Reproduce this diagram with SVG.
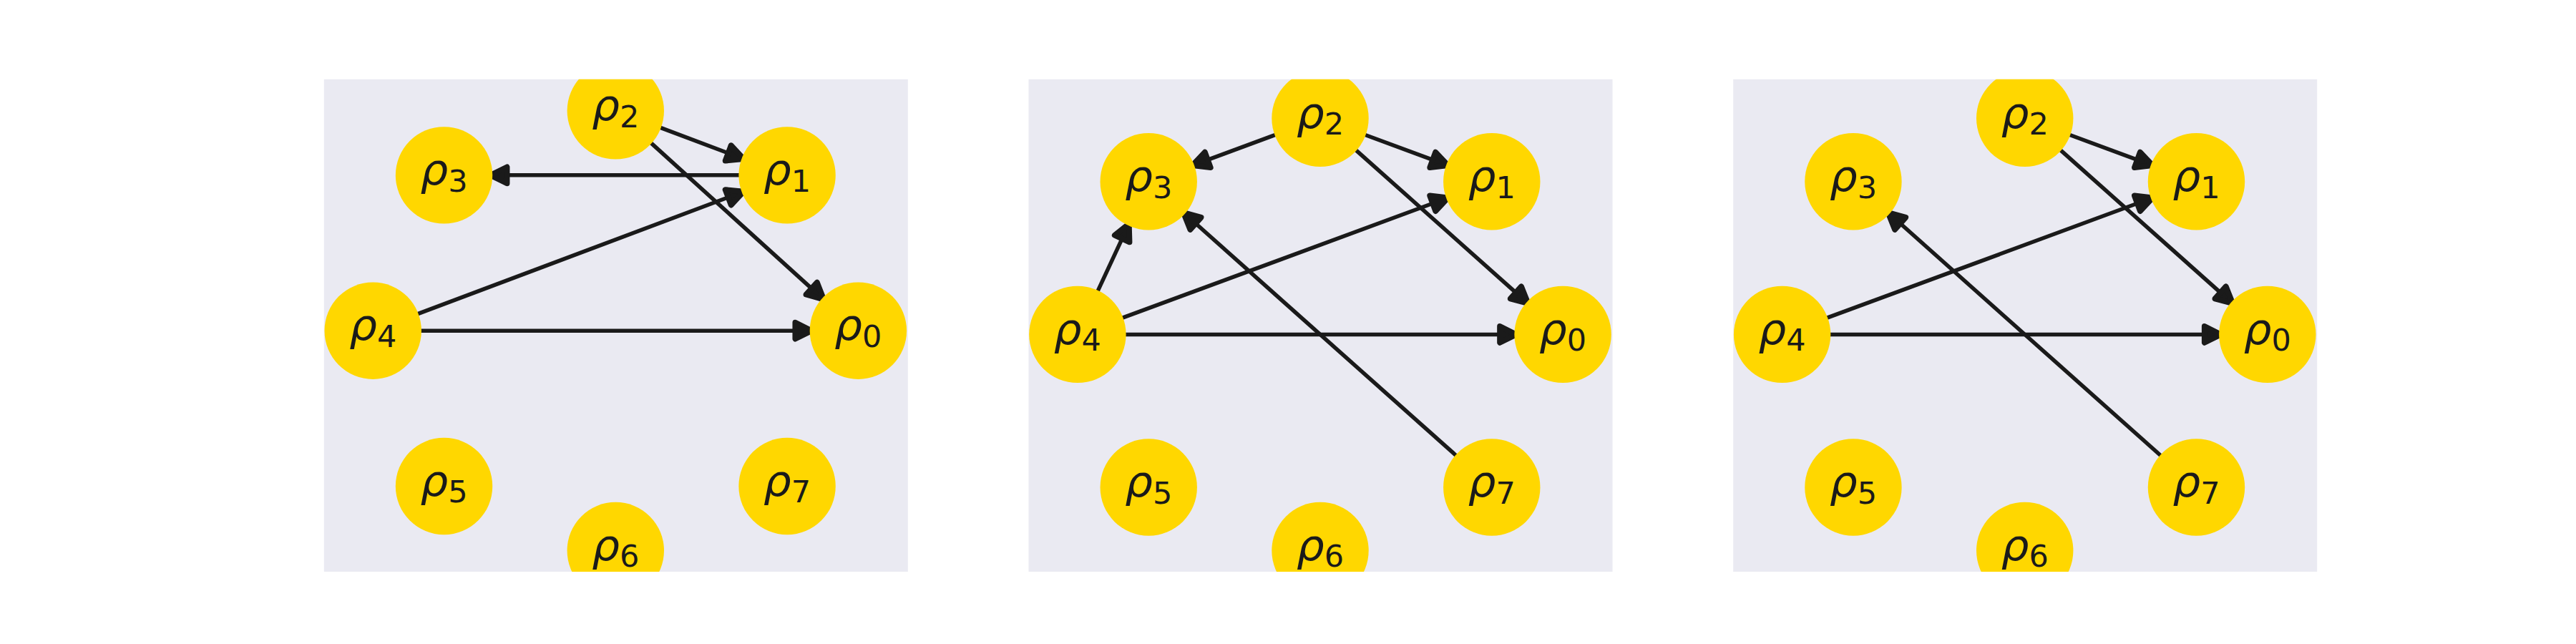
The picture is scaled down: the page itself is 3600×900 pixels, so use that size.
<svg xmlns="http://www.w3.org/2000/svg" width="3600" height="900" viewBox="0 0 3600 900">
<style>
.bg{fill:#EAEAF2}
.node{fill:#FFD700}
.edge{stroke:#1a1a1a;stroke-width:5.5;fill:none;marker-end:url(#ah)}
.lbl{font-family:"DejaVu Sans",sans-serif;font-size:61px;fill:#1a1a1a;text-anchor:middle}
.rho{font-style:italic}
.sub{font-size:43px;font-style:normal}
</style>
<defs>
<marker id="ah" markerUnits="userSpaceOnUse" markerWidth="40" markerHeight="40" viewBox="-5 -14 28 28" refX="0" refY="0" orient="auto" overflow="visible">
<path d="M0,-8 L16,0 L0,8 Z" fill="#1a1a1a" stroke="#1a1a1a" stroke-width="5.5" stroke-linejoin="round"/>
</marker>
<clipPath id="c1"><rect x="452.8" y="110.8" width="816" height="688.2"/></clipPath>
<clipPath id="c2"><rect x="1437.5" y="110.8" width="816" height="688.2"/></clipPath>
<clipPath id="c3"><rect x="2422.2" y="110.8" width="816" height="688.2"/></clipPath>
</defs>
<rect x="0" y="0" width="3600" height="900" fill="#ffffff"/>

<g id="panel1">
<rect class="bg" x="452.8" y="110.8" width="816" height="688.2"/>
<g id="p1-edges" clip-path="url(#c1)">
<line class="edge" x1="923.02" y1="178.41" x2="1017.67" y2="213.95"/>
<line class="edge" x1="1033.06" y1="244.87" x2="708.52" y2="244.87"/>
<line class="edge" x1="909.93" y1="199.85" x2="1134.17" y2="403.09"/>
<line class="edge" x1="583.93" y1="438.63" x2="1017.67" y2="275.79"/>
<line class="edge" x1="588.20" y1="462.18" x2="1111.38" y2="462.18"/>
</g>
<g clip-path="url(#c1)">
<g id="p1-n0"><circle class="node" cx="1199.38" cy="462.18" r="67.7"/><text class="lbl" x="1199.38" y="475.4"><tspan class="rho">ρ</tspan><tspan class="sub" dy="9.6">0</tspan></text></g>
<g id="p1-n1"><circle class="node" cx="1100.06" cy="244.87" r="67.7"/><text class="lbl" x="1100.06" y="258.1"><tspan class="rho">ρ</tspan><tspan class="sub" dy="9.6">1</tspan></text></g>
<g id="p1-n2"><circle class="node" cx="860.29" cy="154.86" r="67.7"/><text class="lbl" x="860.29" y="168.1"><tspan class="rho">ρ</tspan><tspan class="sub" dy="9.6">2</tspan></text></g>
<g id="p1-n3"><circle class="node" cx="620.52" cy="244.87" r="67.7"/><text class="lbl" x="620.52" y="258.1"><tspan class="rho">ρ</tspan><tspan class="sub" dy="9.6">3</tspan></text></g>
<g id="p1-n4"><circle class="node" cx="521.20" cy="462.18" r="67.7"/><text class="lbl" x="521.20" y="475.4"><tspan class="rho">ρ</tspan><tspan class="sub" dy="9.6">4</tspan></text></g>
<g id="p1-n5"><circle class="node" cx="620.52" cy="679.49" r="67.7"/><text class="lbl" x="620.52" y="692.7"><tspan class="rho">ρ</tspan><tspan class="sub" dy="9.6">5</tspan></text></g>
<g id="p1-n6"><circle class="node" cx="860.29" cy="769.50" r="67.7"/><text class="lbl" x="860.29" y="782.7"><tspan class="rho">ρ</tspan><tspan class="sub" dy="9.6">6</tspan></text></g>
<g id="p1-n7"><circle class="node" cx="1100.06" cy="679.49" r="67.7"/><text class="lbl" x="1100.06" y="692.7"><tspan class="rho">ρ</tspan><tspan class="sub" dy="9.6">7</tspan></text></g>
</g>
</g>

<g id="panel2">
<rect class="bg" x="1437.5" y="110.8" width="816" height="688.2"/>
<g id="p2-edges" clip-path="url(#c2)">
<line class="edge" x1="1782.14" y1="188.48" x2="1687.79" y2="223.30"/>
<line class="edge" x1="1907.86" y1="188.48" x2="2002.21" y2="223.30"/>
<line class="edge" x1="1895.03" y1="209.85" x2="2118.38" y2="408.85"/>
<line class="edge" x1="1534.16" y1="406.64" x2="1568.12" y2="333.57"/>
<line class="edge" x1="1568.77" y1="444.19" x2="2002.21" y2="284.24"/>
<line class="edge" x1="1572.91" y1="467.39" x2="2096.09" y2="467.39"/>
<line class="edge" x1="2034.74" y1="636.44" x2="1670.94" y2="312.31"/>
</g>
<g clip-path="url(#c2)">
<g id="p2-n0"><circle class="node" cx="2184.09" cy="467.39" r="67.7"/><text class="lbl" x="2184.09" y="480.6"><tspan class="rho">ρ</tspan><tspan class="sub" dy="9.6">0</tspan></text></g>
<g id="p2-n1"><circle class="node" cx="2084.77" cy="253.77" r="67.7"/><text class="lbl" x="2084.77" y="267.0"><tspan class="rho">ρ</tspan><tspan class="sub" dy="9.6">1</tspan></text></g>
<g id="p2-n2"><circle class="node" cx="1845.00" cy="165.28" r="67.7"/><text class="lbl" x="1845.00" y="178.5"><tspan class="rho">ρ</tspan><tspan class="sub" dy="9.6">2</tspan></text></g>
<g id="p2-n3"><circle class="node" cx="1605.23" cy="253.77" r="67.7"/><text class="lbl" x="1605.23" y="267.0"><tspan class="rho">ρ</tspan><tspan class="sub" dy="9.6">3</tspan></text></g>
<g id="p2-n4"><circle class="node" cx="1505.91" cy="467.39" r="67.7"/><text class="lbl" x="1505.91" y="480.6"><tspan class="rho">ρ</tspan><tspan class="sub" dy="9.6">4</tspan></text></g>
<g id="p2-n5"><circle class="node" cx="1605.23" cy="681.01" r="67.7"/><text class="lbl" x="1605.23" y="694.2"><tspan class="rho">ρ</tspan><tspan class="sub" dy="9.6">5</tspan></text></g>
<g id="p2-n6"><circle class="node" cx="1845.00" cy="769.50" r="67.7"/><text class="lbl" x="1845.00" y="782.7"><tspan class="rho">ρ</tspan><tspan class="sub" dy="9.6">6</tspan></text></g>
<g id="p2-n7"><circle class="node" cx="2084.77" cy="681.01" r="67.7"/><text class="lbl" x="2084.77" y="694.2"><tspan class="rho">ρ</tspan><tspan class="sub" dy="9.6">7</tspan></text></g>
</g>
</g>

<g id="panel3">
<rect class="bg" x="2422.2" y="110.8" width="816" height="688.2"/>
<g id="p3-edges" clip-path="url(#c3)">
<line class="edge" x1="2892.57" y1="188.48" x2="2986.92" y2="223.30"/>
<line class="edge" x1="2879.74" y1="209.85" x2="3103.09" y2="408.85"/>
<line class="edge" x1="2553.48" y1="444.19" x2="2986.92" y2="284.24"/>
<line class="edge" x1="2557.62" y1="467.39" x2="3080.80" y2="467.39"/>
<line class="edge" x1="3019.45" y1="636.44" x2="2655.65" y2="312.31"/>
</g>
<g clip-path="url(#c3)">
<g id="p3-n0"><circle class="node" cx="3168.80" cy="467.39" r="67.7"/><text class="lbl" x="3168.80" y="480.6"><tspan class="rho">ρ</tspan><tspan class="sub" dy="9.6">0</tspan></text></g>
<g id="p3-n1"><circle class="node" cx="3069.48" cy="253.77" r="67.7"/><text class="lbl" x="3069.48" y="267.0"><tspan class="rho">ρ</tspan><tspan class="sub" dy="9.6">1</tspan></text></g>
<g id="p3-n2"><circle class="node" cx="2829.71" cy="165.28" r="67.7"/><text class="lbl" x="2829.71" y="178.5"><tspan class="rho">ρ</tspan><tspan class="sub" dy="9.6">2</tspan></text></g>
<g id="p3-n3"><circle class="node" cx="2589.94" cy="253.77" r="67.7"/><text class="lbl" x="2589.94" y="267.0"><tspan class="rho">ρ</tspan><tspan class="sub" dy="9.6">3</tspan></text></g>
<g id="p3-n4"><circle class="node" cx="2490.62" cy="467.39" r="67.7"/><text class="lbl" x="2490.62" y="480.6"><tspan class="rho">ρ</tspan><tspan class="sub" dy="9.6">4</tspan></text></g>
<g id="p3-n5"><circle class="node" cx="2589.94" cy="681.01" r="67.7"/><text class="lbl" x="2589.94" y="694.2"><tspan class="rho">ρ</tspan><tspan class="sub" dy="9.6">5</tspan></text></g>
<g id="p3-n6"><circle class="node" cx="2829.71" cy="769.50" r="67.7"/><text class="lbl" x="2829.71" y="782.7"><tspan class="rho">ρ</tspan><tspan class="sub" dy="9.6">6</tspan></text></g>
<g id="p3-n7"><circle class="node" cx="3069.48" cy="681.01" r="67.7"/><text class="lbl" x="3069.48" y="694.2"><tspan class="rho">ρ</tspan><tspan class="sub" dy="9.6">7</tspan></text></g>
</g>
</g>
</svg>
